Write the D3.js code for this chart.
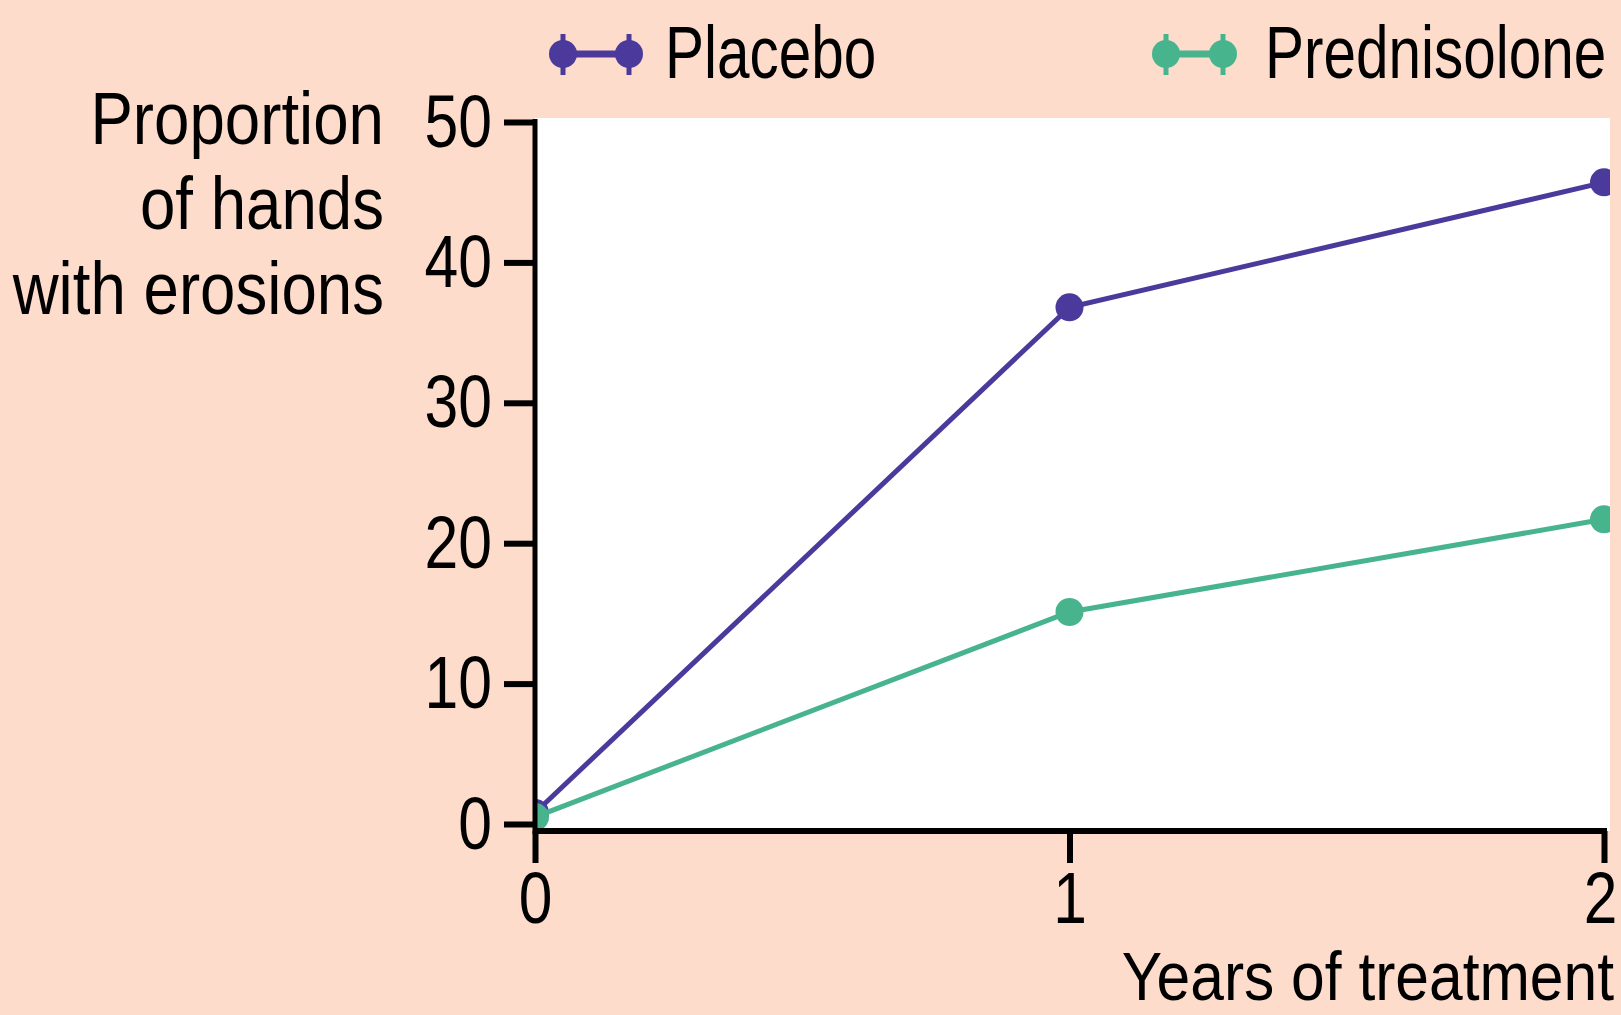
<!DOCTYPE html>
<html>
<head>
<meta charset="utf-8">
<script src="https://cdn.jsdelivr.net/npm/d3@7"></script>
<style>
  body { margin: 0; background: #fddccb; }
  svg text { font-family: 'Liberation Sans', Arial, sans-serif; fill: #000; }
</style>
</head>
<body>
<svg id="chart" width="1621" height="1015"></svg>
<script>
// data
const years = [0, 1, 2];
const placebo = [0.8, 36.8, 45.7];
const prednisolone = [0.5, 15.1, 21.7];
const seriesNames = ['Placebo', 'Prednisolone'];
const yTicks = [0, 10, 20, 30, 40, 50];
const xTicks = [0, 1, 2];
const yTitle = ['Proportion', 'of hands', 'with erosions'];
const xTitle = 'Years of treatment';

let colors = {'Placebo': '#4b3a9c', 'Prednisolone': '#47b48e'};
let squeeze = 'scale(0.82,1)';   // the original font is very narrow
let fontSize = 74;

let svg = d3.select('#chart');

let x = d3.scaleLinear()
    .domain([0, 2])
    .range([535, 1604]);
let y = d3.scaleLinear()
    .domain([0, 50])
    .range([824, 122]);

let axisY = 831;   // x axis sits a little below the zero line

// white plot area
svg.append('rect')
    .attr('x', x(0))
    .attr('y', y(50) - 4)
    .attr('width', 1610 - x(0))
    .attr('height', axisY - y(50) + 4)
    .attr('fill', '#fff');

svg.append('clipPath').attr('id', 'plotClip')
    .append('rect')
    .attr('x', x(0) + 2)
    .attr('y', y(50) - 4)
    .attr('width', 1610 - x(0) - 2)
    .attr('height', axisY - y(50) + 1);

// series
let series = [
    {name: seriesNames[0], values: placebo},
    {name: seriesNames[1], values: prednisolone}
];
let line = d3.line()
    .x((d, i) => x(years[i]))
    .y(d => y(d));

let marks = svg.append('g').attr('clip-path', 'url(#plotClip)');
series.forEach(s => {
    marks.append('path')
        .datum(s.values)
        .attr('d', line)
        .attr('fill', 'none')
        .attr('stroke', colors[s.name])
        .attr('stroke-width', 5);
    marks.selectAll('circle.' + s.name)
        .data(s.values)
        .enter().append('circle')
        .attr('class', s.name)
        .attr('cx', (d, i) => x(years[i]))
        .attr('cy', d => y(d))
        .attr('r', 14)
        .attr('fill', colors[s.name]);
});

// y axis
let yAxis = d3.axisLeft(y)
    .tickValues(yTicks)
    .tickSize(31)
    .tickSizeOuter(0)
    .tickFormat(d3.format('d'));
let gy = svg.append('g')
    .attr('transform', 'translate(' + x(0) + ',0)')
    .call(yAxis);
gy.select('.domain').remove();
gy.selectAll('.tick line').attr('stroke', '#000').attr('stroke-width', 6);
gy.selectAll('.tick text')
    .attr('x', null)
    .attr('dy', null)
    .attr('font-size', fontSize)
    .attr('transform', 'translate(-43,24) ' + squeeze);

// x axis
let xAxis = d3.axisBottom(x)
    .tickValues(xTicks)
    .tickSize(32)
    .tickSizeOuter(0)
    .tickFormat(d3.format('d'));
let gx = svg.append('g')
    .attr('transform', 'translate(0,' + axisY + ')')
    .call(xAxis);
gx.select('.domain').remove();
gx.selectAll('.tick line').attr('stroke', '#000').attr('stroke-width', 6);
gx.selectAll('.tick text')
    .attr('y', null)
    .attr('dy', null)
    .attr('font-size', 72)
    .attr('transform', (d, i) => 'translate(' + (i == 2 ? -4 : 0) + ',92) scale(0.84,1)');

// axis lines
svg.append('line')
    .attr('x1', x(0)).attr('x2', x(0))
    .attr('y1', y(50) - 3).attr('y2', axisY + 3)
    .attr('stroke', '#000').attr('stroke-width', 5);
svg.append('line')
    .attr('x1', x(0) - 2).attr('x2', x(2) + 3)
    .attr('y1', axisY).attr('y2', axisY)
    .attr('stroke', '#000').attr('stroke-width', 6);

// y title, right aligned
svg.append('g').selectAll('text')
    .data(yTitle)
    .enter().append('text')
    .attr('text-anchor', 'end')
    .attr('font-size', fontSize)
    .attr('transform', (d, i) => 'translate(384,' + (144 + i * 85) + ') scale(0.86,1)')
    .text(d => d);

// x title (kept just inside the bottom edge)
svg.append('text')
    .attr('text-anchor', 'end')
    .attr('font-size', 68)
    .attr('transform', 'translate(1614,1000) scale(0.89,1)')
    .text(xTitle);

// legend
let legendPos = [{cx: [563, 629], tx: 665}, {cx: [1166, 1223], tx: 1265}];
let legend = svg.append('g').selectAll('g')
    .data(seriesNames)
    .enter().append('g');
legend.each(function(name, i) {
    let g = d3.select(this);
    let p = legendPos[i];
    g.append('line')
        .attr('x1', p.cx[0]).attr('x2', p.cx[1])
        .attr('y1', 54).attr('y2', 54)
        .attr('stroke', colors[name]).attr('stroke-width', 7);
    p.cx.forEach(cx => {
        g.append('line')
            .attr('x1', cx).attr('x2', cx)
            .attr('y1', 34).attr('y2', 75)
            .attr('stroke', colors[name]).attr('stroke-width', 5);
        g.append('circle')
            .attr('cx', cx).attr('cy', 54).attr('r', 14)
            .attr('fill', colors[name]);
    });
    g.append('text')
        .attr('font-size', fontSize)
        .attr('transform', 'translate(' + p.tx + ',78) scale(0.79,1)')
        .text(name);
});
</script>
</body>
</html>
